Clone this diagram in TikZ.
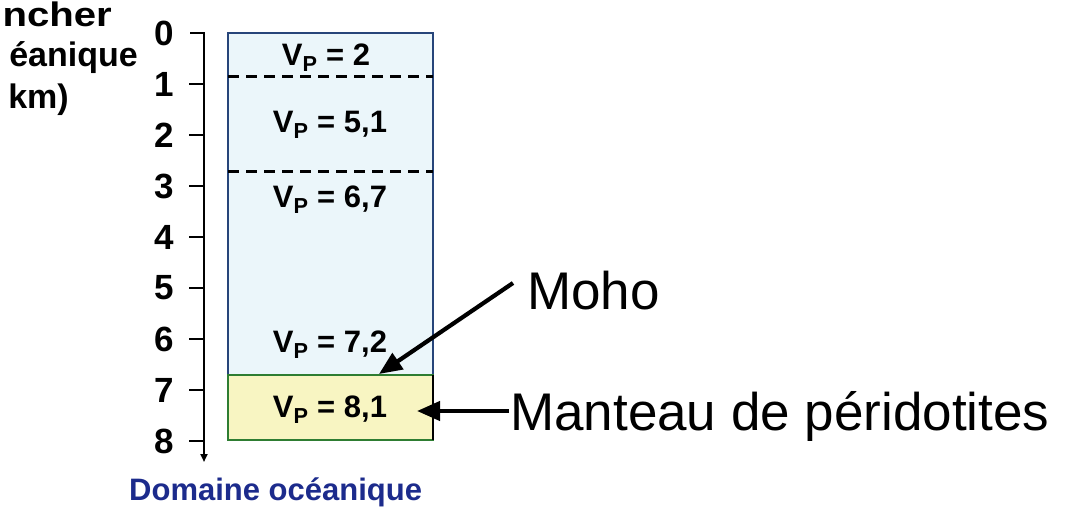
\documentclass[tikz,border=0pt]{standalone}
\usepackage{fontspec}
\usepackage{graphicx}
\setmainfont{Liberation Sans}
\usetikzlibrary{arrows.meta}
\definecolor{upfill}{HTML}{EBF6FA}
\definecolor{boxblue}{HTML}{27457A}
\definecolor{mantlefill}{HTML}{F8F5C2}
\definecolor{mantlegreen}{HTML}{2E7D32}
\definecolor{domblue}{HTML}{1C2B8C}
\begin{document}
\begin{tikzpicture}[x=1pt,y=-1pt,
  numlab/.style={font=\fontsize{35}{35}\selectfont\bfseries, inner sep=0pt, anchor=center},
  vplab/.style={font=\fontsize{31}{31}\selectfont\bfseries, inner sep=0pt, anchor=base},
  sidelab/.style={font=\fontsize{34}{34}\selectfont\bfseries, inner sep=0pt, anchor=base east},
  biglab/.style={font=\fontsize{53}{53}\selectfont, inner sep=0pt},
  tickline/.style={line width=2.6pt},
  dashline/.style={line width=3pt, dash pattern=on 11pt off 7pt},
  ptr/.style={line width=4.2pt, -{Triangle[length=23pt,width=19pt]}}
]
\useasboundingbox (0,0) rectangle (1066,514);

% left title (cut by the frame)
\node[sidelab] (t1) at (112,26) {\scalebox{1.18}[1]{ncher}};
\node[sidelab] (t2) at (138,66) {éanique};
\node[sidelab] (t3) at (69,108) {km)};

% box
\fill[upfill] (228,33) rectangle (433,375);
\draw[boxblue, line width=2.4pt] (228,375) -- (228,33) -- (433,33) -- (433,375);
\filldraw[fill=mantlefill, draw=mantlegreen, line width=2.4pt] (228,375) rectangle (433,440);
\draw[black, line width=2.4pt] (433,375) -- (433,440);
\draw[dashline] (228,76) -- (433,76);
\draw[dashline] (228,171) -- (433,171);

% axis
\draw[line width=2.8pt, -{Triangle[length=8pt,width=7pt]}] (190,33) -- (204,33) -- (204,462);
\foreach \k in {1,...,8} {
  \draw[tickline] (189,33+51*\k) -- (204,33+51*\k);
}
\foreach \k in {0,...,8} {
  \node[numlab] (n\k) at (164,33+51*\k) {\k};
}

% velocities
\node[vplab] (v1) at (326,65) {V\textsubscript{P} = 2};
\node[vplab] (v2) at (330,132) {V\textsubscript{P} = 5,1};
\node[vplab] (v3) at (330,207) {V\textsubscript{P} = 6,7};
\node[vplab] (v4) at (330,352) {V\textsubscript{P} = 7,2};
\node[vplab] (v5) at (330,417) {V\textsubscript{P} = 8,1};

% bottom label
\node[font=\fontsize{31}{31}\selectfont\bfseries, text=domblue, inner sep=0pt, anchor=base west] (dom) at (129,500) {Domaine océanique};

% annotations
\node[biglab, anchor=base west] (moho) at (527,309) {Moho};
\node[biglab, anchor=base west] (manteau) at (510,430) {Manteau de péridotites};
\coordinate (mohostart) at (513,283);
\coordinate (mohotip) at (379,374);
\coordinate (manstart) at ([shift={(-1,-19)}]manteau.base west);
\coordinate (mantip) at (417,411);
\draw[ptr] (mohostart) -- (mohotip);
\draw[ptr] (manstart) -- (mantip);
\end{tikzpicture}
\end{document}
